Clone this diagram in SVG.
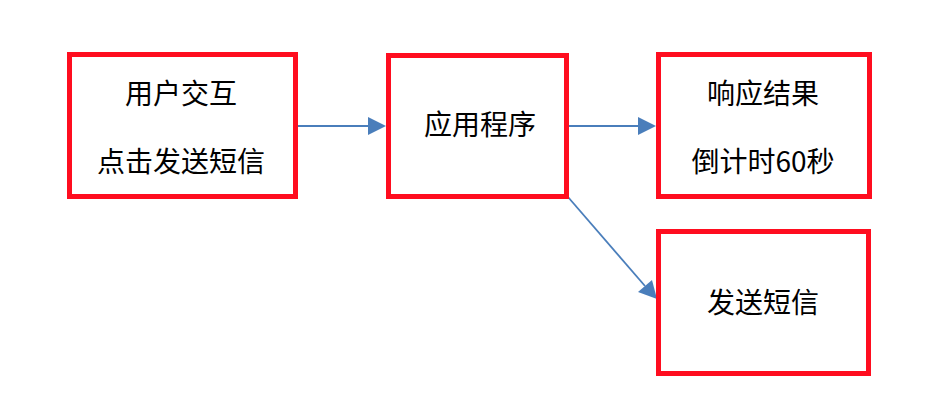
<svg xmlns="http://www.w3.org/2000/svg" width="952" height="409" viewBox="0 0 952 409">
<style>
.box{fill:#fff;stroke:#ff0d1f;stroke-width:5}
.t{font-family:"Noto Sans CJK SC","Liberation Sans",sans-serif;font-size:28px;fill:#000;text-anchor:middle}
.c{stroke:#4a7ebb;stroke-width:1.8;fill:none}
.h{fill:#4a7ebb}
</style>
<rect width="952" height="409" fill="#fff"/>
<g id="connectors">
<path d="M298,126 L368,126" class="c"/>
<path class="h" d="M386,126 L368,117 L368,135 z"/>
<path d="M569,126 L638,126" class="c"/>
<path class="h" d="M656,126 L638,117 L638,135 z"/>
<path d="M568,197 L645,286" class="c"/>
<path class="h" d="M657,299 L638,292 L652,280 z"/>
</g>
<g id="n1">
<rect class="box" x="69.5" y="54.5" width="226" height="142"/>
<text class="t" x="181" y="104">用户交互</text>
<text class="t" x="181" y="172">点击发送短信</text>
</g>
<g id="n2">
<rect class="box" x="388.5" y="55.5" width="178" height="141"/>
<text class="t" x="480" y="135">应用程序</text>
</g>
<g id="n3">
<rect class="box" x="658.5" y="54.5" width="211" height="142"/>
<text class="t" x="763" y="104">响应结果</text>
<text class="t" x="763" y="172">倒计时60秒</text>
</g>
<g id="n4">
<rect class="box" x="658.5" y="231.5" width="210" height="142"/>
<text class="t" x="763" y="313">发送短信</text>
</g>
</svg>
